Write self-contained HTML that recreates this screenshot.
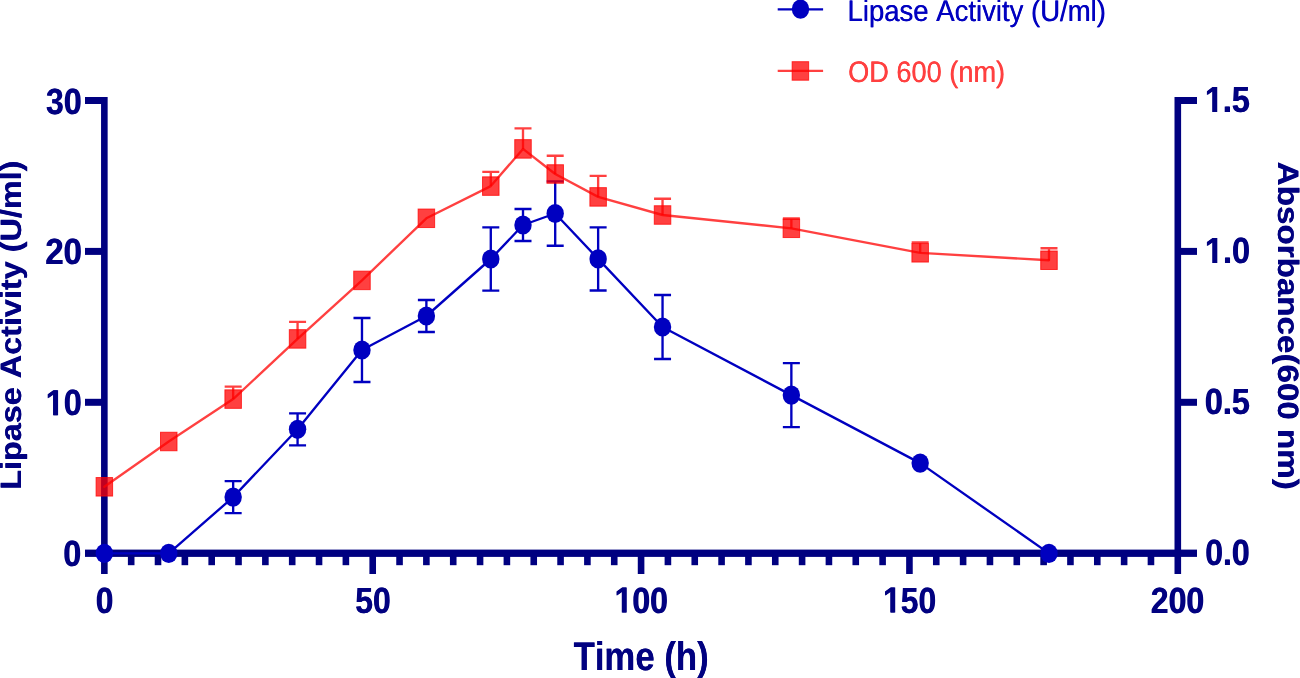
<!DOCTYPE html>
<html lang="en">
<head>
<meta charset="utf-8">
<title>Lipase Activity and OD 600 vs Time</title>
<style>
html,body{margin:0;padding:0;background:#fff;}
body{width:1300px;height:678px;overflow:hidden;}
svg{display:block;font-family:"Liberation Sans",sans-serif;text-rendering:geometricPrecision;font-kerning:none;}
</style>
</head>
<body>
<svg width="1300" height="678" viewBox="0 0 1300 678">
<rect width="1300" height="678" fill="#ffffff"/>
<g fill="#000080">
<rect x="101.05" y="97.00" width="6.6" height="477.00"/>
<rect x="1174.50" y="97.00" width="6.6" height="477.00"/>
<rect x="85" y="549.60" width="1112" height="7.3"/>
<rect x="85" y="398.80" width="19.35" height="7.0"/>
<rect x="1177.80" y="398.80" width="19.20" height="7.0"/>
<rect x="85" y="247.90" width="19.35" height="7.0"/>
<rect x="1177.80" y="247.90" width="19.20" height="7.0"/>
<rect x="85" y="97.00" width="19.35" height="7.0"/>
<rect x="1177.80" y="97.00" width="19.20" height="7.0"/>
<rect x="127.89" y="553.20" width="6.6" height="12.00"/>
<rect x="154.72" y="553.20" width="6.6" height="12.00"/>
<rect x="181.56" y="553.20" width="6.6" height="12.00"/>
<rect x="208.39" y="553.20" width="6.6" height="12.00"/>
<rect x="235.23" y="553.20" width="6.6" height="12.00"/>
<rect x="262.07" y="553.20" width="6.6" height="12.00"/>
<rect x="288.90" y="553.20" width="6.6" height="12.00"/>
<rect x="315.74" y="553.20" width="6.6" height="12.00"/>
<rect x="342.58" y="553.20" width="6.6" height="12.00"/>
<rect x="369.41" y="553.20" width="6.6" height="20.80"/>
<rect x="396.25" y="553.20" width="6.6" height="12.00"/>
<rect x="423.08" y="553.20" width="6.6" height="12.00"/>
<rect x="449.92" y="553.20" width="6.6" height="12.00"/>
<rect x="476.76" y="553.20" width="6.6" height="12.00"/>
<rect x="503.59" y="553.20" width="6.6" height="12.00"/>
<rect x="530.43" y="553.20" width="6.6" height="12.00"/>
<rect x="557.27" y="553.20" width="6.6" height="12.00"/>
<rect x="584.10" y="553.20" width="6.6" height="12.00"/>
<rect x="610.94" y="553.20" width="6.6" height="12.00"/>
<rect x="637.78" y="553.20" width="6.6" height="20.80"/>
<rect x="664.61" y="553.20" width="6.6" height="12.00"/>
<rect x="691.45" y="553.20" width="6.6" height="12.00"/>
<rect x="718.28" y="553.20" width="6.6" height="12.00"/>
<rect x="745.12" y="553.20" width="6.6" height="12.00"/>
<rect x="771.96" y="553.20" width="6.6" height="12.00"/>
<rect x="798.79" y="553.20" width="6.6" height="12.00"/>
<rect x="825.63" y="553.20" width="6.6" height="12.00"/>
<rect x="852.47" y="553.20" width="6.6" height="12.00"/>
<rect x="879.30" y="553.20" width="6.6" height="12.00"/>
<rect x="906.14" y="553.20" width="6.6" height="20.80"/>
<rect x="932.97" y="553.20" width="6.6" height="12.00"/>
<rect x="959.81" y="553.20" width="6.6" height="12.00"/>
<rect x="986.65" y="553.20" width="6.6" height="12.00"/>
<rect x="1013.48" y="553.20" width="6.6" height="12.00"/>
<rect x="1040.32" y="553.20" width="6.6" height="12.00"/>
<rect x="1067.15" y="553.20" width="6.6" height="12.00"/>
<rect x="1093.99" y="553.20" width="6.6" height="12.00"/>
<rect x="1120.83" y="553.20" width="6.6" height="12.00"/>
<rect x="1147.66" y="553.20" width="6.6" height="12.00"/>
</g>
<g stroke="#0000C0" stroke-width="2.35" fill="none" stroke-linejoin="round" stroke-linecap="butt">
<polyline points="104.35,553.40 168.76,553.40 233.16,497.10 297.57,429.30 361.98,350.00 426.38,316.00 490.79,259.00 523.00,225.00 555.20,213.50 598.14,258.90 662.54,327.00 791.36,395.10 920.17,463.10 1048.99,553.40" stroke-linecap="round"/>
<path d="M233.16,481.10V513.10M224.66,481.10h17.0M224.66,513.10h17.0"/>
<path d="M297.57,413.30V445.30M289.07,413.30h17.0M289.07,445.30h17.0"/>
<path d="M361.98,318.00V382.00M353.48,318.00h17.0M353.48,382.00h17.0"/>
<path d="M426.38,300.00V332.00M417.88,300.00h17.0M417.88,332.00h17.0"/>
<path d="M490.79,227.40V290.60M482.29,227.40h17.0M482.29,290.60h17.0"/>
<path d="M523.00,209.00V241.00M514.50,209.00h17.0M514.50,241.00h17.0"/>
<path d="M555.20,181.30V245.70M546.70,181.30h17.0M546.70,245.70h17.0"/>
<path d="M598.14,227.30V290.50M589.64,227.30h17.0M589.64,290.50h17.0"/>
<path d="M662.54,295.00V359.00M654.04,295.00h17.0M654.04,359.00h17.0"/>
<path d="M791.36,363.10V427.10M782.86,363.10h17.0M782.86,427.10h17.0"/>
</g>
<g fill="#0000C0">
<ellipse cx="104.35" cy="553.40" rx="8.7" ry="9.6"/>
<ellipse cx="168.76" cy="553.40" rx="8.7" ry="9.6"/>
<ellipse cx="233.16" cy="497.10" rx="8.7" ry="9.6"/>
<ellipse cx="297.57" cy="429.30" rx="8.7" ry="9.6"/>
<ellipse cx="361.98" cy="350.00" rx="8.7" ry="9.6"/>
<ellipse cx="426.38" cy="316.00" rx="8.7" ry="9.6"/>
<ellipse cx="490.79" cy="259.00" rx="8.7" ry="9.6"/>
<ellipse cx="523.00" cy="225.00" rx="8.7" ry="9.6"/>
<ellipse cx="555.20" cy="213.50" rx="8.7" ry="9.6"/>
<ellipse cx="598.14" cy="258.90" rx="8.7" ry="9.6"/>
<ellipse cx="662.54" cy="327.00" rx="8.7" ry="9.6"/>
<ellipse cx="791.36" cy="395.10" rx="8.7" ry="9.6"/>
<ellipse cx="920.17" cy="463.10" rx="8.7" ry="9.6"/>
<ellipse cx="1048.99" cy="553.40" rx="8.7" ry="9.6"/>
</g>
<g stroke="rgba(255,0,0,0.75)" stroke-width="2.35" fill="none" stroke-linejoin="round">
<polyline points="104.35,486.80 168.76,441.50 233.16,399.10 297.57,338.90 361.98,280.40 426.38,218.30 490.79,186.10 523.00,148.90 555.20,174.00 598.14,196.90 662.54,215.00 791.36,228.30 920.17,252.80 1048.99,260.25" stroke-linecap="round"/>
<path d="M233.16,399.10V386.60M224.66,386.60h17.0"/>
<path d="M297.57,338.90V321.80M289.07,321.80h17.0"/>
<path d="M490.79,186.10V171.90M482.29,171.90h17.0"/>
<path d="M523.00,148.90V128.30M514.50,128.30h17.0"/>
<path d="M555.20,174.00V155.70M546.70,155.70h17.0"/>
<path d="M598.14,196.90V175.90M589.64,175.90h17.0"/>
<path d="M662.54,215.00V198.70M654.04,198.70h17.0"/>
<path d="M791.36,228.30V218.50M782.86,218.50h17.0"/>
<path d="M920.17,252.80V242.30M911.67,242.30h17.0"/>
<path d="M1048.99,260.25V248.25M1040.49,248.25h17.0"/>
</g>
<g fill="rgba(255,0,0,0.75)" stroke="rgba(255,0,0,0.75)" stroke-width="1">
<rect x="96.10" y="477.55" width="16.5" height="18.5"/>
<rect x="160.51" y="432.25" width="16.5" height="18.5"/>
<rect x="224.91" y="389.85" width="16.5" height="18.5"/>
<rect x="289.32" y="329.65" width="16.5" height="18.5"/>
<rect x="353.73" y="271.15" width="16.5" height="18.5"/>
<rect x="418.13" y="209.05" width="16.5" height="18.5"/>
<rect x="482.54" y="176.85" width="16.5" height="18.5"/>
<rect x="514.75" y="139.65" width="16.5" height="18.5"/>
<rect x="546.95" y="164.75" width="16.5" height="18.5"/>
<rect x="589.89" y="187.65" width="16.5" height="18.5"/>
<rect x="654.29" y="205.75" width="16.5" height="18.5"/>
<rect x="783.11" y="219.05" width="16.5" height="18.5"/>
<rect x="911.92" y="243.55" width="16.5" height="18.5"/>
<rect x="1040.74" y="251.00" width="16.5" height="18.5"/>
</g>
<path d="M777.7,9.3H823.1" stroke="#0000C0" stroke-width="2.35"/>
<ellipse cx="800.5" cy="9.1" rx="8.7" ry="9.6" fill="#0000C0"/>
<path d="M777.7,70.9H823.1" stroke="rgba(255,0,0,0.75)" stroke-width="2.35"/>
<rect x="792.15" y="61.70" width="16.5" height="18.5" fill="rgba(255,0,0,0.75)" stroke="rgba(255,0,0,0.75)" stroke-width="1"/>
<g opacity="0.999">
<text transform="translate(45.77,113.50) scale(0.8779,1)" font-size="36.4" font-weight="bold" fill="#000080">30</text>
<text transform="translate(46.37,113.50) scale(0.8779,1)" font-size="36.4" font-weight="bold" fill="#000080">30</text>
<text transform="translate(45.06,264.40) scale(0.9011,1)" font-size="36.4" font-weight="bold" fill="#000080">20</text>
<text transform="translate(45.66,264.40) scale(0.9011,1)" font-size="36.4" font-weight="bold" fill="#000080">20</text>
<path transform="translate(45.48,415.30) scale(0.8902,1) scale(0.017773,-0.017773)" d="M478 0V1170L140 959V1180L493 1409H759V0Z" fill="#000080"/>
<text transform="translate(63.51,415.30) scale(0.8902,1)" font-size="36.4" font-weight="bold" fill="#000080">0</text>
<path transform="translate(46.08,415.30) scale(0.8902,1) scale(0.017773,-0.017773)" d="M478 0V1170L140 959V1180L493 1409H759V0Z" fill="#000080"/>
<text transform="translate(64.11,415.30) scale(0.8902,1)" font-size="36.4" font-weight="bold" fill="#000080">0</text>
<text transform="translate(63.04,566.20) scale(0.8780,1)" font-size="36.4" font-weight="bold" fill="#000080">0</text>
<text transform="translate(63.64,566.20) scale(0.8780,1)" font-size="36.4" font-weight="bold" fill="#000080">0</text>
<path transform="translate(1204.70,112.10) scale(0.8854,1) scale(0.017773,-0.017773)" d="M478 0V1170L140 959V1180L493 1409H759V0Z" fill="#000080"/>
<text transform="translate(1222.62,112.10) scale(0.8854,1)" font-size="36.4" font-weight="bold" fill="#000080">.5</text>
<path transform="translate(1205.30,112.10) scale(0.8854,1) scale(0.017773,-0.017773)" d="M478 0V1170L140 959V1180L493 1409H759V0Z" fill="#000080"/>
<text transform="translate(1223.22,112.10) scale(0.8854,1)" font-size="36.4" font-weight="bold" fill="#000080">.5</text>
<path transform="translate(1204.68,263.00) scale(0.8923,1) scale(0.017773,-0.017773)" d="M478 0V1170L140 959V1180L493 1409H759V0Z" fill="#000080"/>
<text transform="translate(1222.74,263.00) scale(0.8923,1)" font-size="36.4" font-weight="bold" fill="#000080">.0</text>
<path transform="translate(1205.28,263.00) scale(0.8923,1) scale(0.017773,-0.017773)" d="M478 0V1170L140 959V1180L493 1409H759V0Z" fill="#000080"/>
<text transform="translate(1223.34,263.00) scale(0.8923,1)" font-size="36.4" font-weight="bold" fill="#000080">.0</text>
<text transform="translate(1204.62,413.90) scale(0.8868,1)" font-size="36.4" font-weight="bold" fill="#000080">0.5</text>
<text transform="translate(1205.22,413.90) scale(0.8868,1)" font-size="36.4" font-weight="bold" fill="#000080">0.5</text>
<text transform="translate(1204.93,564.80) scale(0.8790,1)" font-size="36.4" font-weight="bold" fill="#000080">0.0</text>
<text transform="translate(1205.53,564.80) scale(0.8790,1)" font-size="36.4" font-weight="bold" fill="#000080">0.0</text>
<text transform="translate(95.56,612.50) scale(0.8607,1)" font-size="36.4" font-weight="bold" fill="#000080">0</text>
<text transform="translate(96.16,612.50) scale(0.8607,1)" font-size="36.4" font-weight="bold" fill="#000080">0</text>
<text transform="translate(354.92,612.50) scale(0.8766,1)" font-size="36.4" font-weight="bold" fill="#000080">50</text>
<text transform="translate(355.52,612.50) scale(0.8766,1)" font-size="36.4" font-weight="bold" fill="#000080">50</text>
<path transform="translate(614.32,612.50) scale(0.8775,1) scale(0.017773,-0.017773)" d="M478 0V1170L140 959V1180L493 1409H759V0Z" fill="#000080"/>
<text transform="translate(632.08,612.50) scale(0.8775,1)" font-size="36.4" font-weight="bold" fill="#000080">00</text>
<path transform="translate(614.92,612.50) scale(0.8775,1) scale(0.017773,-0.017773)" d="M478 0V1170L140 959V1180L493 1409H759V0Z" fill="#000080"/>
<text transform="translate(632.68,612.50) scale(0.8775,1)" font-size="36.4" font-weight="bold" fill="#000080">00</text>
<path transform="translate(882.83,612.50) scale(0.8740,1) scale(0.017773,-0.017773)" d="M478 0V1170L140 959V1180L493 1409H759V0Z" fill="#000080"/>
<text transform="translate(900.52,612.50) scale(0.8740,1)" font-size="36.4" font-weight="bold" fill="#000080">50</text>
<path transform="translate(883.43,612.50) scale(0.8740,1) scale(0.017773,-0.017773)" d="M478 0V1170L140 959V1180L493 1409H759V0Z" fill="#000080"/>
<text transform="translate(901.12,612.50) scale(0.8740,1)" font-size="36.4" font-weight="bold" fill="#000080">50</text>
<text transform="translate(1150.49,612.50) scale(0.8797,1)" font-size="36.4" font-weight="bold" fill="#000080">200</text>
<text transform="translate(1151.09,612.50) scale(0.8797,1)" font-size="36.4" font-weight="bold" fill="#000080">200</text>
<text transform="translate(573.51,670.00) scale(0.8677,1)" font-size="40" font-weight="bold" fill="#000080">Time (h)</text>
<text transform="translate(573.76,670.00) scale(0.8677,1)" font-size="40" font-weight="bold" fill="#000080">Time (h)</text>
<text transform="translate(21.20,489.57) rotate(-90) scale(0.9960,0.908)" font-size="32.5" font-weight="bold" fill="#000080">Lipase Activity (U/ml)</text>
<text transform="translate(21.20,489.97) rotate(-90) scale(0.9960,0.908)" font-size="32.5" font-weight="bold" fill="#000080">Lipase Activity (U/ml)</text>
<text transform="translate(1278.40,161.57) rotate(90) scale(1.0205,0.908)" font-size="32.5" font-weight="bold" fill="#000080">Absorbance(600 nm)</text>
<text transform="translate(1278.40,161.97) rotate(90) scale(1.0205,0.908)" font-size="32.5" font-weight="bold" fill="#000080">Absorbance(600 nm)</text>
<text transform="translate(847.34,21.00) scale(0.9267,1)" font-size="29.7" font-weight="normal" fill="#0000C0">Lipase Activity (U/ml)</text>
<text transform="translate(847.74,21.00) scale(0.9267,1)" font-size="29.7" font-weight="normal" fill="#0000C0">Lipase Activity (U/ml)</text>
<text transform="translate(847.91,82.00) scale(0.9151,1)" font-size="29.7" font-weight="normal" fill="#FF4040">OD 600 (nm)</text>
<text transform="translate(848.31,82.00) scale(0.9151,1)" font-size="29.7" font-weight="normal" fill="#FF4040">OD 600 (nm)</text>
</g>
</svg>
</body>
</html>
